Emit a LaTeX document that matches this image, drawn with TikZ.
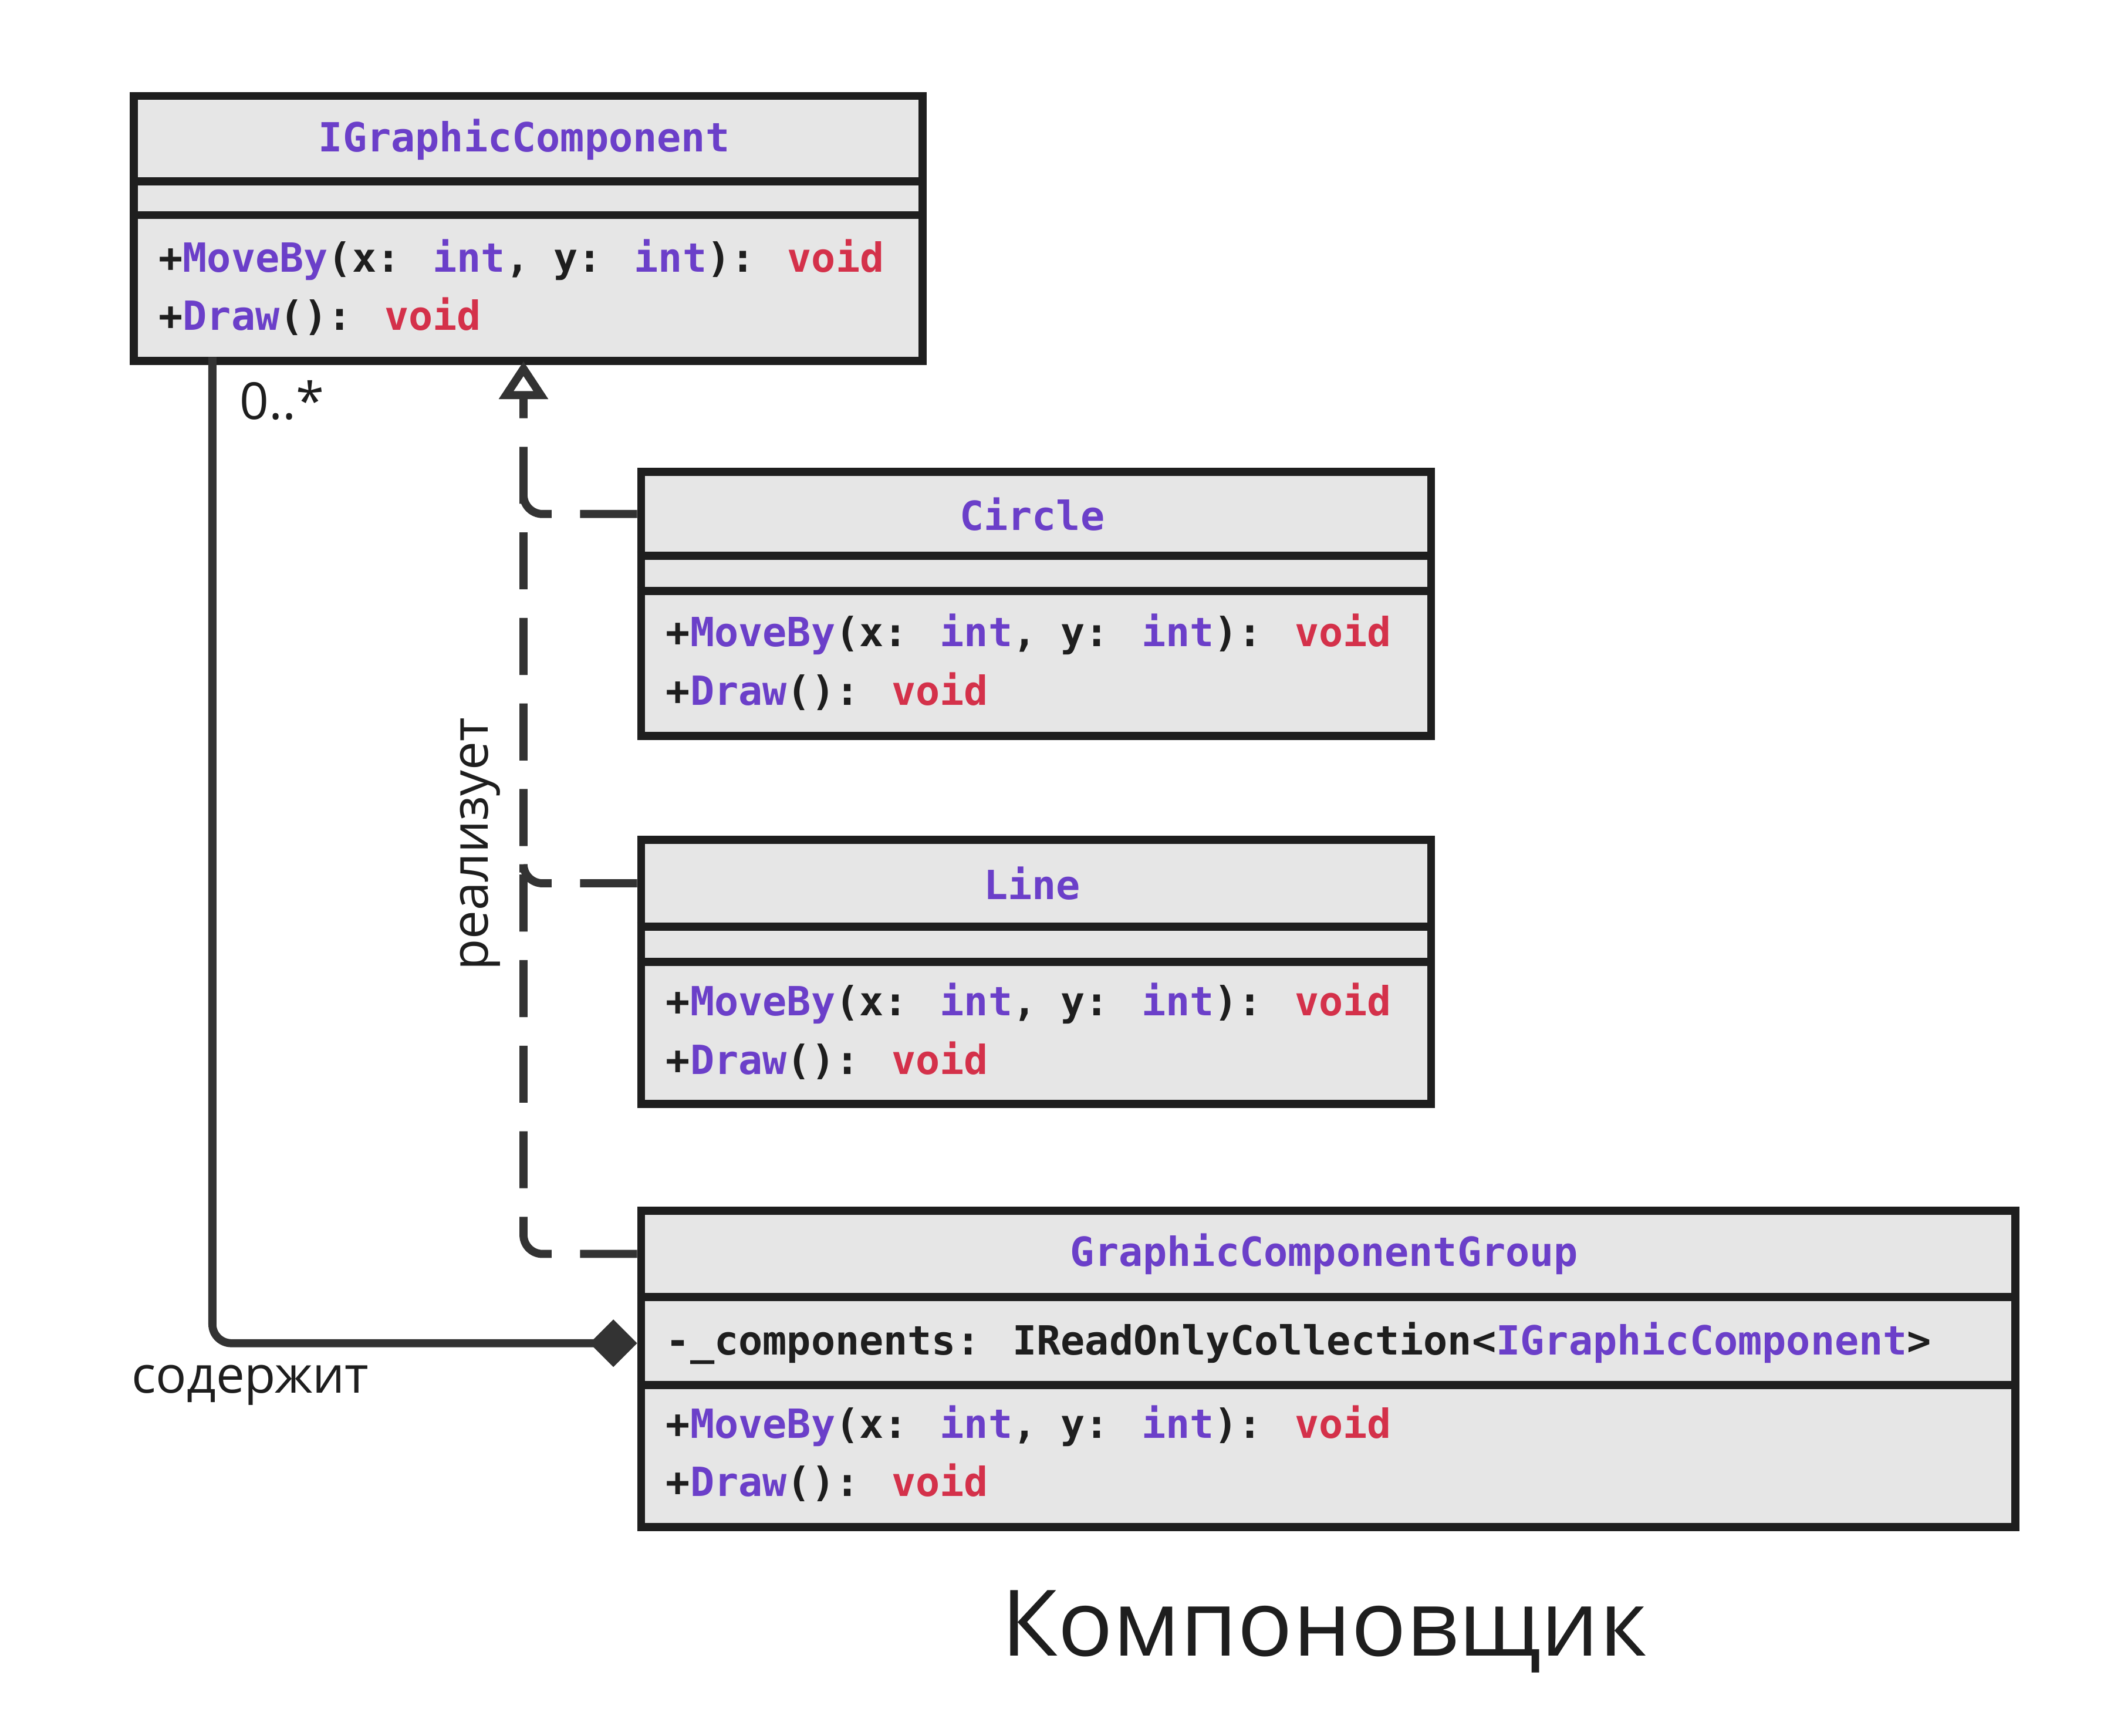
\documentclass[tikz,border=0pt]{standalone}
\usepackage{fontspec}
\setmainfont{Open Sans}
\newfontfamily\codefont{DejaVu Sans Mono}
\usetikzlibrary{arrows.meta}
\definecolor{pur}{HTML}{6B3FC9}
\definecolor{rd}{HTML}{D4314A}
\definecolor{boxfill}{HTML}{E6E6E6}
\definecolor{bord}{HTML}{1E1E1E}
\definecolor{conn}{HTML}{333333}
\newcommand{\kw}[1]{\textcolor{pur}{#1}}
\newcommand{\vd}[1]{\textcolor{rd}{#1}}
\begin{document}
\begin{tikzpicture}[x=0.02cm,y=-0.02cm,
  box/.style={draw=bord,line width=3.4pt,fill=boxfill,anchor=north west,inner sep=0pt},
  sep/.style={draw=bord,line width=3.4pt},
  code/.style={font=\codefont\bfseries\fontsize{16.9}{20}\selectfont,text=bord,anchor=west,inner sep=0pt},
  ttl/.style={font=\codefont\bfseries\fontsize{16.9}{20}\selectfont,text=pur,inner sep=0pt},
  conn/.style={draw=conn,line width=3.4pt,rounded corners=8pt},
  real/.style={conn,dash pattern=on 24pt off 12pt},
  lbl/.style={font=\fontsize{21.5}{25}\selectfont,text=bord,inner sep=0pt}]
\useasboundingbox (1,1) rectangle (1569,1284);
% IGraphicComponent
\node[box,minimum width=583*0.02cm,minimum height=196*0.02cm] (I) at (97,69) {};
\draw[sep] (97,135) -- (680,135) (97,160) -- (680,160);
\node[ttl] (It) at (388.5,104) {IGraphicComponent};
\node[code] (I1) at (118,193) {+\kw{MoveBy}(x: \kw{int}, y: \kw{int}): \vd{void}};
\node[code] (I2) at (118,235) {+\kw{Draw}(): \vd{void}};
% Circle
\node[box,minimum width=584*0.02cm,minimum height=195*0.02cm] (C) at (472,347) {};
\draw[sep] (472,412) -- (1056,412) (472,438) -- (1056,438);
\node[ttl] (Ct) at (764,381) {Circle};
\node[code] (C1) at (493,470) {+\kw{MoveBy}(x: \kw{int}, y: \kw{int}): \vd{void}};
\node[code] (C2) at (493,512) {+\kw{Draw}(): \vd{void}};
% Line
\node[box,minimum width=584*0.02cm,minimum height=195*0.02cm] (L) at (472,619) {};
\draw[sep] (472,686) -- (1056,686) (472,712) -- (1056,712);
\node[ttl] (Lt) at (764,654) {Line};
\node[code] (L1) at (493,743) {+\kw{MoveBy}(x: \kw{int}, y: \kw{int}): \vd{void}};
\node[code] (L2) at (493,785) {+\kw{Draw}(): \vd{void}};
% Group
\node[box,minimum width=1016*0.02cm,minimum height=234*0.02cm] (G) at (472,893) {};
\draw[sep] (472,960) -- (1488,960) (472,1025) -- (1488,1025);
\node[ttl] (Gt) at (980,928) {GraphicComponentGroup};
\node[code] (Ga) at (493,994) {-\_components: IReadOnlyCollection<\kw{IGraphicComponent}>};
\node[code] (G1) at (493,1055) {+\kw{MoveBy}(x: \kw{int}, y: \kw{int}): \vd{void}};
\node[code] (G2) at (493,1097) {+\kw{Draw}(): \vd{void}};
% realization
\coordinate (tip) at (388,268);
\draw[real,-{Triangle[open,length=16pt,width=20pt]}] (Gt.west -| G.west) -| (tip);
\draw[real] (Ct.west -| C.west) -- ++(-84,0) -- ++(0,-8);
\draw[real] (Lt.west -| L.west) -- ++(-84,0) -- ++(0,-8);
% composition
\coordinate (Is) at (158,265);
\draw[conn,{Diamond[length=20pt,width=20pt]}-] (Ga.west -| G.west) -| (Is);
% labels
\node[lbl,anchor=west] (m) at (178,297) {0..*};
\node[lbl] (s) at (186,1025) {содержит};
\node[lbl,rotate=90] (r) at (356,625) {реализует};
\node[font=\fontsize{38.6}{44}\selectfont,text=bord,inner sep=0pt] (T) at (980,1207) {Компоновщик};
\end{tikzpicture}
\end{document}
